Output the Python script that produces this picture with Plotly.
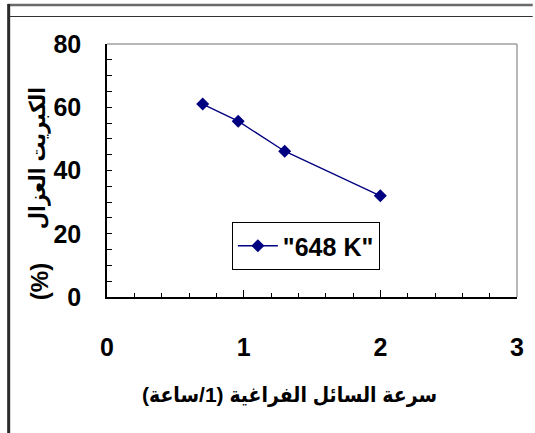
import plotly.graph_objects as go

# Data
lhsv = [0.7, 0.96, 1.3, 2.0]
sulfur_removed = [61, 55.6, 46.1, 32]
series_name = '"648 K"'
x_ticks = [0, 1, 2, 3]
y_ticks = [0, 20, 40, 60, 80]

FONT = "Liberation Sans, Arial, DejaVu Sans Condensed, DejaVu Sans, sans-serif"
W, H = 535, 433
L, R, T, B = 107, 11, 44, 136
PW, PH = W - L - R, H - T - B

def px(x):
    return (x - L) / PW

def py(y):
    return (H - B - y) / PH

fig = go.Figure()
fig.add_trace(go.Scatter(
    x=lhsv, y=sulfur_removed, name=series_name, mode="lines+markers",
    line=dict(color="#000080", width=1.3),
    marker=dict(symbol="diamond", size=10, color="#000080"),
))

axis_common = dict(
    showgrid=False, zeroline=False, showline=True, linecolor="#000000", linewidth=1.5,
    ticks="inside", tickcolor="#000000",
    tickfont=dict(family=FONT, size=25, color="#000000", weight="bold"),
)
fig.update_xaxes(range=[0, 3], tickvals=x_ticks, ticklen=7, tickwidth=1,
                 minor=dict(dtick=0.2, ticklen=4, ticks="inside", tickcolor="#000000"),
                 ticklabelstandoff=27, **axis_common)
fig.update_yaxes(range=[0, 80], tickvals=y_ticks, ticklen=5, tickwidth=1,
                 minor=dict(dtick=5, ticklen=5, ticks="inside", tickcolor="#000000"),
                 ticklabelstandoff=19, **axis_common)

shapes = [
    # top / right plot-area borders (gray)
    dict(type="line", xref="paper", yref="paper", x0=0, x1=1, y0=1, y1=1,
         line=dict(color="#a0a0a0", width=1.5)),
    dict(type="line", xref="paper", yref="paper", x0=1, x1=1, y0=0, y1=1,
         line=dict(color="#a0a0a0", width=1.5)),
    # outer frame lines
    dict(type="line", xref="paper", yref="paper", x0=px(6), x1=px(W + 5), y0=py(5), y1=py(5),
         line=dict(color="#6a6a6a", width=2.5)),
    dict(type="line", xref="paper", yref="paper", x0=px(6), x1=px(W + 5), y0=py(16.5), y1=py(16.5),
         line=dict(color="#333333", width=1)),
    dict(type="line", xref="paper", yref="paper", x0=px(7), x1=px(7), y0=py(4), y1=py(H + 5),
         line=dict(color="#2a2a2a", width=3)),
]

title_font = dict(family=FONT, size=21, color="#000000", weight="bold")
annotations = [
    dict(text="\u202bسرعة السائل الفراغية (1/ساعة)\u202c", xref="paper", yref="paper",
         x=px(293), y=py(395), showarrow=False, font=title_font,
         xanchor="center", yanchor="middle"),
    dict(text="الكبريت العزال", xref="paper", yref="paper", x=px(37), y=py(158),
         showarrow=False, textangle=-90, font=dict(family=FONT, size=22, color="#000000", weight="bold"),
         xanchor="center", yanchor="middle"),
    dict(text="(%)", xref="paper", yref="paper", x=px(38), y=py(282),
         showarrow=False, textangle=-90, font=dict(family=FONT, size=24, color="#000000", weight="bold"),
         xanchor="center", yanchor="middle"),
]

fig.update_layout(
    width=W, height=H, margin=dict(l=L, r=R, t=T, b=B), autosize=False,
    paper_bgcolor="#ffffff", plot_bgcolor="#ffffff",
    shapes=shapes, annotations=annotations,
    showlegend=True,
    legend=dict(x=px(234), y=py(222), xanchor="left", yanchor="top",
                bgcolor="#ffffff", bordercolor="#000000", borderwidth=1,
                itemwidth=40,
                font=dict(family=FONT, size=25, color="#000000", weight="bold")),
)

fig.write_html(
    "out.html",
    config={"displayModeBar": False, "responsive": False},
    post_script="document.body.style.margin='0px';document.body.style.overflow='hidden';"
                "document.documentElement.style.overflow='hidden';",
)
